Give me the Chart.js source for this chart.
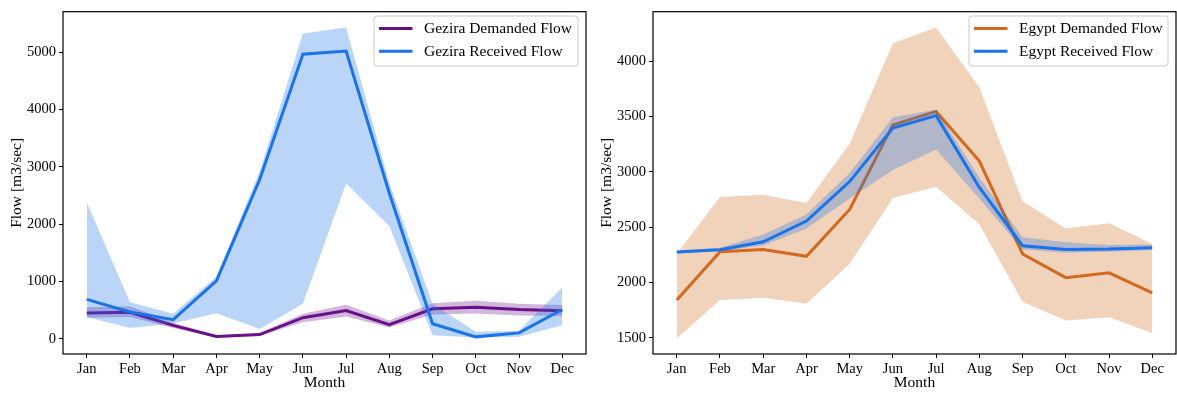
<!DOCTYPE html>
<html>
<head>
<meta charset="utf-8">
<script src="https://cdn.jsdelivr.net/npm/chart.js@4.4.1/dist/chart.umd.min.js"></script>
<style>
  html, body { margin: 0; padding: 0; background: #fff; }
  body { width: 1177px; height: 394px; position: relative; overflow: hidden; }
  canvas { position: absolute; top: 0; }
  #gezira { left: 0; }
  #egypt { left: 590px; }
</style>
</head>
<body>
<canvas id="gezira" width="590" height="394"></canvas>
<canvas id="egypt" width="587" height="394"></canvas>
<script>
// Month categories shared by both panels
const months = ['Jan', 'Feb', 'Mar', 'Apr', 'May', 'Jun', 'Jul', 'Aug', 'Sep', 'Oct', 'Nov', 'Dec'];

// Gezira scheme flows (m3/sec): mean line plus lower/upper range
const gezDemand     = [450, 465, 236, 40, 75, 369, 495, 248, 524, 553, 512, 490];
const gezDemandLow  = [370, 380, 190, 20, 55, 290, 390, 197, 426, 443, 409, 400];
const gezDemandHigh = [550, 570, 280, 60, 100, 440, 595, 320, 621, 665, 611, 590];

const gezReceived     = [690, 470, 335, 1013, 2780, 4966, 5023, 2540, 265, 35, 104, 512];
const gezReceivedLow  = [380, 190, 270, 449, 173, 611, 2710, 1970, 64, 24, 35, 236];
const gezReceivedHigh = [2380, 640, 438, 1088, 2920, 5328, 5432, 2720, 611, 125, 140, 898];

// Egypt flows (m3/sec): mean line plus lower/upper range
const egyDemand     = [1842, 2280, 2300, 2238, 2661, 3425, 3547, 3098, 2259, 2045, 2089, 1907];
const egyDemandLow  = [1494, 1842, 1863, 1809, 2170, 2764, 2866, 2527, 1827, 1657, 1688, 1545];
const egyDemandHigh = [2259, 2773, 2795, 2720, 3255, 4163, 4306, 3762, 2735, 2488, 2536, 2348];

const egyReceived     = [2277, 2297, 2369, 2556, 2913, 3396, 3509, 2860, 2333, 2300, 2303, 2315];
const egyReceivedLow  = [2262, 2285, 2335, 2490, 2760, 3018, 3202, 2760, 2300, 2270, 2280, 2295];
const egyReceivedHigh = [2290, 2315, 2435, 2615, 2990, 3494, 3562, 2950, 2410, 2365, 2340, 2345];

// Axis ticks
const gezYTicks = [0, 1000, 2000, 3000, 4000, 5000];
const egyYTicks = [1500, 2000, 2500, 3000, 3500, 4000];

const FONT = "'Liberation Serif', 'DejaVu Serif', serif";
const PURPLE = '#6a0f8a';
const BLUE = '#1a73e8';
const ORANGE = '#d2691e';

function rgba(hex, a) {
  const n = parseInt(hex.slice(1), 16);
  return `rgba(${(n >> 16) & 255},${(n >> 8) & 255},${n & 255},${a})`;
}

function pts(arr) { return arr.map((v, i) => ({ x: i, y: v })); }

// Build mean line + shaded range datasets; lower "order" is drawn later (on top)
function seriesSets(label, color, mean, low, high, baseIndex, layer) {
  return [
    { label: label + ' low', data: pts(low), borderWidth: 0, borderColor: 'transparent',
      pointRadius: 0, fill: false, order: layer + 2 },
    { label: label + ' range', data: pts(high), borderWidth: 0, borderColor: 'transparent',
      backgroundColor: rgba(color, 0.3), pointRadius: 0, fill: baseIndex, order: layer + 1 },
    { label: label, data: pts(mean), borderColor: color, borderWidth: 3, pointRadius: 0,
      fill: false, tension: 0, order: layer, borderJoinStyle: 'miter', borderCapStyle: 'butt' }
  ];
}

// Frame, axis titles and legend box
const decorPlugin = {
  id: 'decor',
  afterDraw(chart, args, opts) {
    const { ctx, chartArea: a } = chart;
    ctx.save();
    ctx.strokeStyle = '#000';
    ctx.lineWidth = 1.2;
    ctx.strokeRect(a.left, a.top, a.right - a.left, a.bottom - a.top);

    ctx.fillStyle = '#000';
    ctx.font = `15.5px ${FONT}`;
    ctx.textAlign = 'center';
    ctx.textBaseline = 'middle';
    ctx.fillText(opts.xTitle, (a.left + a.right) / 2, 383);
    ctx.save();
    ctx.translate(17, (a.top + a.bottom) / 2);
    ctx.rotate(-Math.PI / 2);
    ctx.fillText(opts.yTitle, 0, 0);
    ctx.restore();

    // legend
    const L = opts.legend;
    const r = 3;
    ctx.beginPath();
    ctx.moveTo(L.x + r, L.y);
    ctx.lineTo(L.x + L.w - r, L.y);
    ctx.arcTo(L.x + L.w, L.y, L.x + L.w, L.y + r, r);
    ctx.lineTo(L.x + L.w, L.y + L.h - r);
    ctx.arcTo(L.x + L.w, L.y + L.h, L.x + L.w - r, L.y + L.h, r);
    ctx.lineTo(L.x + r, L.y + L.h);
    ctx.arcTo(L.x, L.y + L.h, L.x, L.y + L.h - r, r);
    ctx.lineTo(L.x, L.y + r);
    ctx.arcTo(L.x, L.y, L.x + r, L.y, r);
    ctx.closePath();
    ctx.fillStyle = 'rgba(255,255,255,0.8)';
    ctx.fill();
    ctx.strokeStyle = '#cccccc';
    ctx.lineWidth = 1;
    ctx.stroke();

    ctx.font = `15.5px ${FONT}`;
    ctx.textAlign = 'left';
    L.items.forEach((it, k) => {
      const cy = L.y + 12.5 + k * 22.7;
      ctx.strokeStyle = it.color;
      ctx.lineWidth = 3;
      ctx.beginPath();
      ctx.moveTo(L.x + 5, cy);
      ctx.lineTo(L.x + 38.5, cy);
      ctx.stroke();
      ctx.fillStyle = '#000';
      ctx.fillText(it.label, L.x + 50, cy + 0.5);
    });
    ctx.restore();
  }
};

function makeChart(id, datasets, yMin, yMax, yTicks, rightPad, legend, yTitle) {
  return new Chart(document.getElementById(id), {
    type: 'line',
    data: { datasets },
    options: {
      responsive: false,
      animation: false,
      devicePixelRatio: 1,
      layout: { padding: { left: 0, right: rightPad, top: 8, bottom: 0 } },
      plugins: {
        legend: { display: false },
        tooltip: { enabled: false },
        decor: { xTitle: 'Month', yTitle, legend }
      },
      scales: {
        x: {
          type: 'linear', min: -0.55, max: 11.55,
          afterBuildTicks: s => { s.ticks = months.map((_, i) => ({ value: i })); },
          afterFit: s => { s.height = 40; },
          ticks: { callback: v => months[v], color: '#000', font: { family: FONT, size: 14.5 },
                   padding: 2, maxRotation: 0, autoSkip: false },
          grid: { drawOnChartArea: false, drawTicks: true, tickLength: 4, color: '#000', tickWidth: 1 },
          border: { display: false }
        },
        y: {
          min: yMin, max: yMax,
          afterBuildTicks: s => { s.ticks = yTicks.map(v => ({ value: v })); },
          afterFit: s => { s.width = 63; },
          ticks: { callback: v => String(v), color: '#000', font: { family: FONT, size: 14.5 }, padding: 3 },
          grid: { drawOnChartArea: false, drawTicks: true, tickLength: 4, color: '#000', tickWidth: 1 },
          border: { display: false }
        }
      }
    },
    plugins: [decorPlugin]
  });
}

// Gezira panel: demanded range first, received on top
const gezSets = [
  ...seriesSets('Gezira Received Flow', BLUE, gezReceived, gezReceivedLow, gezReceivedHigh, 0, 1),
  ...seriesSets('Gezira Demanded Flow', PURPLE, gezDemand, gezDemandLow, gezDemandHigh, 3, 4)
];
makeChart('gezira', gezSets, -264, 5708, gezYTicks, 4, {
  x: 374, y: 16, w: 204, h: 50,
  items: [ { label: 'Gezira Demanded Flow', color: PURPLE }, { label: 'Gezira Received Flow', color: BLUE } ]
}, 'Flow [m3/sec]');

// Egypt panel
const egySets = [
  ...seriesSets('Egypt Received Flow', BLUE, egyReceived, egyReceivedLow, egyReceivedHigh, 0, 1),
  ...seriesSets('Egypt Demanded Flow', ORANGE, egyDemand, egyDemandLow, egyDemandHigh, 3, 4)
];
makeChart('egypt', egySets, 1355, 4448, egyYTicks, 1, {
  x: 379, y: 16, w: 199, h: 50,
  items: [ { label: 'Egypt Demanded Flow', color: ORANGE }, { label: 'Egypt Received Flow', color: BLUE } ]
}, 'Flow [m3/sec]');
</script>
</body>
</html>
